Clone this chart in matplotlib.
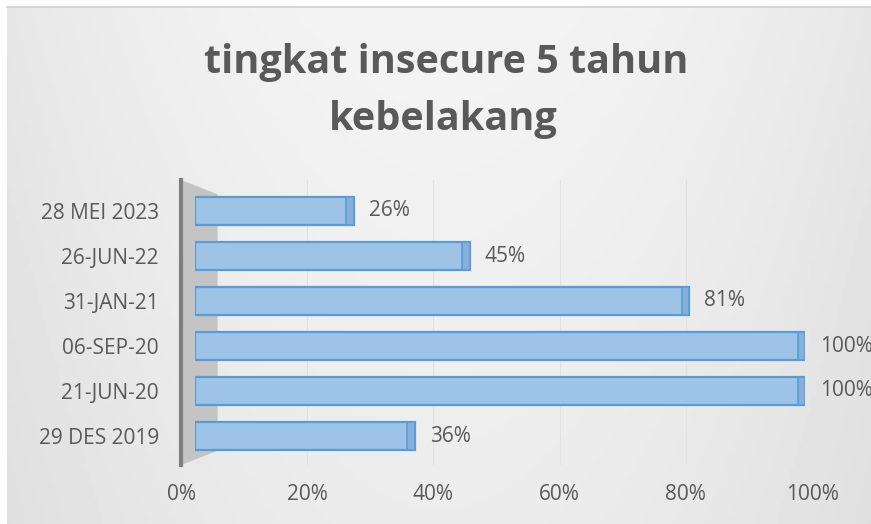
import numpy as np
import matplotlib.pyplot as plt
from matplotlib.patches import Polygon
from matplotlib.ticker import PercentFormatter

# data (top to bottom as in the chart)
categories = ["28 MEI 2023", "26-JUN-22", "31-JAN-21", "06-SEP-20", "21-JUN-20", "29 DES 2019"]
values = [0.26, 0.45, 0.81, 1.00, 1.00, 0.36]
x_ticks = [0, 0.2, 0.4, 0.6, 0.8, 1.0]
title_lines = ["tingkat insecure 5 tahun", "kebelakang"]

text_col = "#595959"
plt.rcParams["font.family"] = ["Open Sans", "DejaVu Sans"]

W, H = 871, 524
fig = plt.figure(figsize=(W / 100, H / 100), dpi=100, facecolor="white")

# chart area background, soft light gradient
ax_bg = fig.add_axes([7 / W, 0, 1 - 7 / W, 1 - 7 / H])
gx = np.linspace(-1, 1, 200)
gy = np.linspace(0, 1, 120)
GX, GY = np.meshgrid(gx, gy)
shade = 0.955 - 0.05 * GX ** 2 - 0.03 * GY
ax_bg.imshow(shade, cmap="gray", vmin=0, vmax=1, aspect="auto", extent=[0, 1, 0, 1])
ax_bg.set_xticks([])
ax_bg.set_yticks([])
for s in ["left", "right", "bottom"]:
    ax_bg.spines[s].set_visible(False)
ax_bg.spines["top"].set_color("#cfcfcf")
ax_bg.spines["top"].set_linewidth(1.2)

# back wall / tick axis
ax_t = fig.add_axes([181 / W, (H - 465) / H, 631 / W, 285 / H])
ax_t.set_facecolor("none")
ax_t.set_xlim(0, 1)
ax_t.set_ylim(0, 1)
ax_t.set_yticks([])
ax_t.set_xticks(x_ticks)
ax_t.xaxis.set_major_formatter(PercentFormatter(1.0, decimals=0))
ax_t.tick_params(axis="x", length=0, pad=14, labelsize=15, labelcolor=text_col)
for s in ["top", "right", "bottom"]:
    ax_t.spines[s].set_visible(False)
ax_t.spines["left"].set_color("#7f7f7f")
ax_t.spines["left"].set_linewidth(3)
ax_t.grid(axis="x", color="#e2e2e2", lw=0.8)
# side wall
ax_t.add_patch(Polygon([(0, 1), (0.058, 0.95), (0.058, 0.05), (0, 0)], closed=True,
                       transform=ax_t.transAxes, facecolor="#c4c4c4", edgecolor="none", zorder=0))

# bars
ax = fig.add_axes([195 / W, (H - 458.5) / H, 610 / W, 270 / H])
ax.set_facecolor("none")
ypos = list(range(len(categories)))[::-1]
ax.barh(ypos, values, height=0.64, color="#9dc3e6", edgecolor="#5b9bd5", lw=1.6, zorder=3)
# darker end face of each bar (3d look)
cap = 0.012
ax.barh(ypos, [cap] * len(values), left=[v - cap for v in values], height=0.64,
        color="#86afd9", edgecolor="#5b9bd5", lw=1.2, zorder=4)
for y, v in zip(ypos, values):
    ax.annotate(f"{v:.0%}", (v, y), xytext=(11, 0), textcoords="offset points",
                va="center", ha="left", fontsize=15, color=text_col)
ax.set_xlim(0, 1)
ax.set_ylim(-0.5, len(categories) - 0.5)
ax.set_xticks([])
ax.set_yticks(ypos)
ax.set_yticklabels(categories)
ax.tick_params(axis="y", length=0, pad=26, labelsize=15, labelcolor=text_col)
for s in ax.spines.values():
    s.set_visible(False)

fig.text(446 / W, 1 - 73 / H, title_lines[0], ha="center", va="baseline", fontsize=28.5,
         fontweight="bold", color=text_col)
fig.text(443 / W, 1 - 130 / H, title_lines[1], ha="center", va="baseline", fontsize=28.5,
         fontweight="bold", color=text_col)

fig.savefig("out.png", dpi=100, facecolor=fig.get_facecolor())
